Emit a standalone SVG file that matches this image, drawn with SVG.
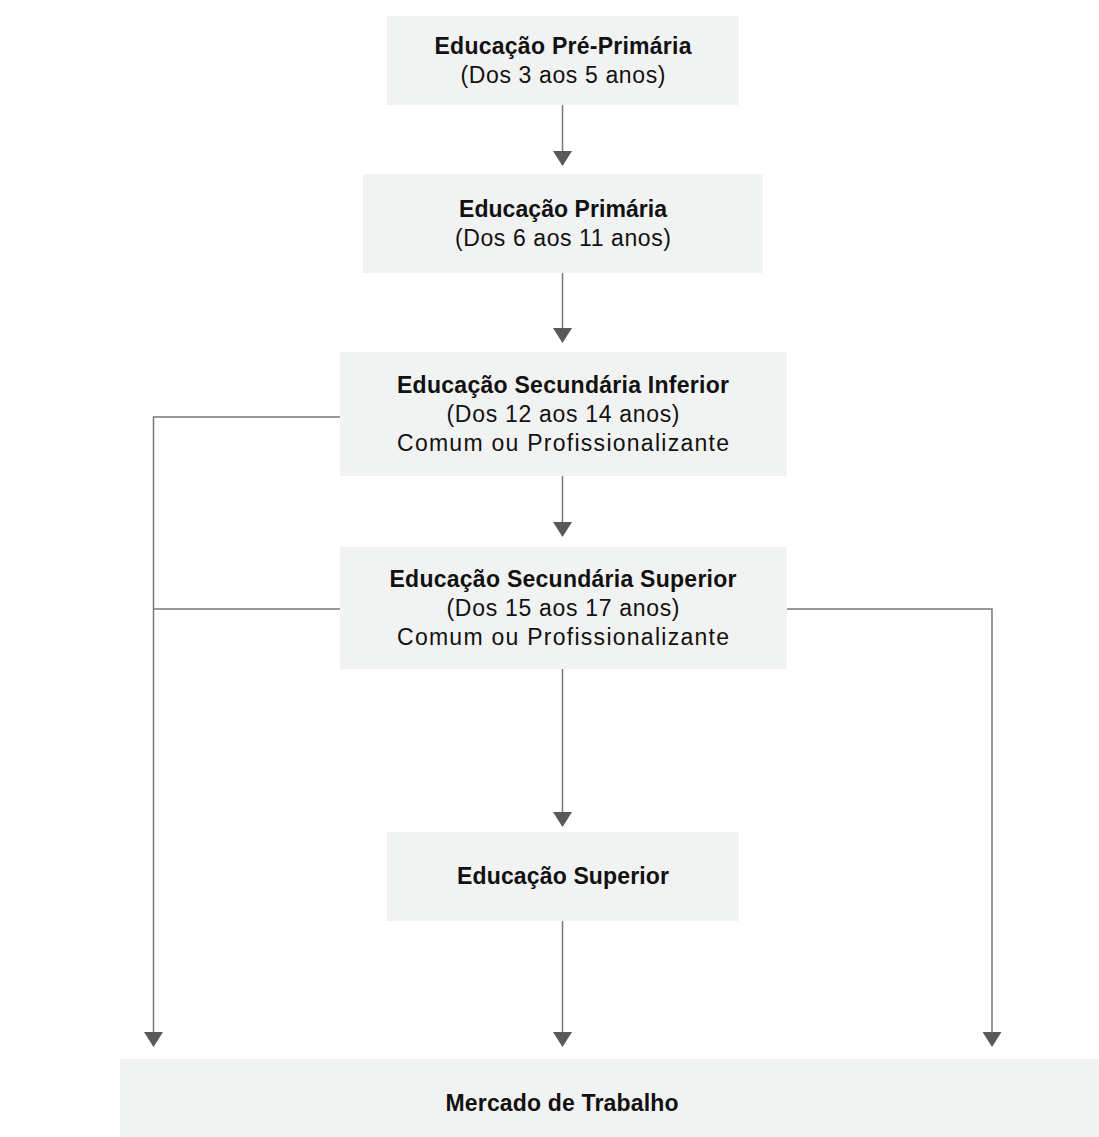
<svg xmlns="http://www.w3.org/2000/svg" width="1099" height="1137" viewBox="0 0 1099 1137">
  <defs>
    <style>
      .box { fill: #f1f2f2; }
      .t { font-family: "Liberation Sans", Arial, sans-serif; font-size: 23px; fill: #111; text-anchor: middle; }
      .b { font-weight: bold; }
      .link { fill: none; stroke: #777; stroke-width: 1.5; marker-end: url(#arrow); }
      .plain { fill: none; stroke: #777; stroke-width: 1.5; }
    </style>
    <marker id="arrow" viewBox="0 0 15 19" refX="14" refY="9.5" markerWidth="15" markerHeight="19" markerUnits="userSpaceOnUse" orient="auto">
      <path d="M0,0 L15,9.5 L0,19 Z" fill="#58595b"/>
    </marker>
  </defs>

  <rect width="1099" height="1137" fill="#fff"/>

  <!-- connectors -->
  <g id="connectors">
    <path class="link" d="M562.5,105 V165"/>
    <path class="link" d="M562.5,273 V342"/>
    <path class="link" d="M562.5,476 V536"/>
    <path class="link" d="M562.5,669 V826"/>
    <path class="link" d="M562.5,921 V1046"/>
    <path class="link" d="M340,417 H153.5 V1046"/>
    <path class="plain" d="M340,609 H153.5"/>
    <path class="link" d="M787,609 H992 V1046"/>
  </g>

  <!-- nodes -->
  <g id="pre-primaria">
    <rect class="box" x="387" y="16" width="352" height="89"/>
    <text class="t b" x="563" y="54" textLength="257" lengthAdjust="spacing">Educação Pré-Primária</text>
    <text class="t" x="563" y="83" textLength="205" lengthAdjust="spacing">(Dos 3 aos 5 anos)</text>
  </g>

  <g id="primaria">
    <rect class="box" x="363" y="174" width="400" height="99"/>
    <text class="t b" x="563" y="217" textLength="208" lengthAdjust="spacing">Educação Primária</text>
    <text class="t" x="563" y="246" textLength="216" lengthAdjust="spacing">(Dos 6 aos 11 anos)</text>
  </g>

  <g id="secundaria-inferior">
    <rect class="box" x="340" y="352" width="447" height="124"/>
    <text class="t b" x="563" y="393" textLength="332" lengthAdjust="spacing">Educação Secundária Inferior</text>
    <text class="t" x="563" y="422" textLength="233" lengthAdjust="spacing">(Dos 12 aos 14 anos)</text>
    <text class="t" x="563" y="451" textLength="332" lengthAdjust="spacing">Comum ou Profissionalizante</text>
  </g>

  <g id="secundaria-superior">
    <rect class="box" x="340" y="547" width="447" height="122"/>
    <text class="t b" x="563" y="587" textLength="347" lengthAdjust="spacing">Educação Secundária Superior</text>
    <text class="t" x="563" y="616" textLength="233" lengthAdjust="spacing">(Dos 15 aos 17 anos)</text>
    <text class="t" x="563" y="645" textLength="332" lengthAdjust="spacing">Comum ou Profissionalizante</text>
  </g>

  <g id="superior">
    <rect class="box" x="387" y="832" width="352" height="89"/>
    <text class="t b" x="563" y="884" textLength="212" lengthAdjust="spacing">Educação Superior</text>
  </g>

  <g id="mercado-trabalho">
    <rect class="box" x="120" y="1059" width="979" height="78"/>
    <text class="t b" x="562" y="1111" textLength="233" lengthAdjust="spacing">Mercado de Trabalho</text>
  </g>
</svg>
